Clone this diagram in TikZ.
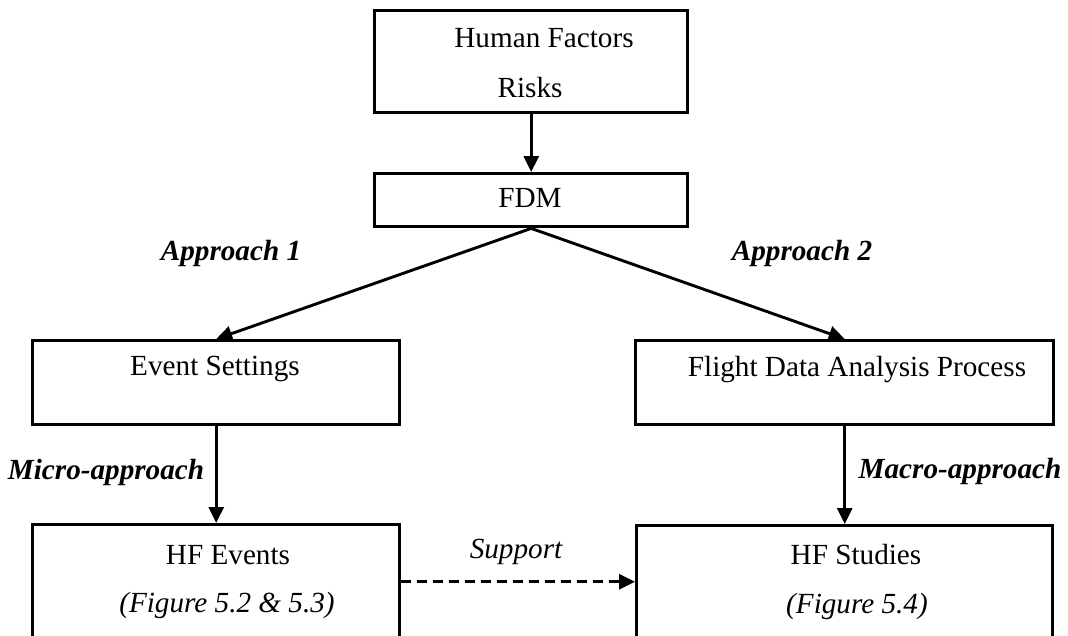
\documentclass[tikz,border=0pt]{standalone}
\usepackage{fontspec}
\setmainfont{Liberation Serif}
\usetikzlibrary{arrows.meta}
\begin{document}
\begin{tikzpicture}[x=1pt,y=-1pt,
  boxnode/.style={draw=black, line width=3.4pt, rectangle, inner sep=0pt, anchor=north west},
  txt/.style={inner sep=0pt, font=\fontsize{29.2}{35}\selectfont},
  lbl/.style={inner sep=0pt, font=\fontsize{29.2}{35}\selectfont\bfseries\itshape},
  conn/.style={line width=2.9pt, -{Triangle[length=16pt,width=15pt]}},
  dconn/.style={line width=2.9pt, dash pattern=on 10pt off 6pt, -{Triangle[length=16pt,width=15pt]}}]
\useasboundingbox (0,0) rectangle (1068,635);
% boxes
\node[boxnode, minimum width=313pt, minimum height=102pt] (top) at (373,9) {};
\node[boxnode, minimum width=313pt, minimum height=53pt] (fdm) at (373,172) {};
\node[boxnode, minimum width=367pt, minimum height=84pt] (ev) at (31,339) {};
\node[boxnode, minimum width=418pt, minimum height=84pt] (fl) at (634,339) {};
\node[boxnode, minimum width=367pt, minimum height=114pt] (hfe) at (31,523) {};
\node[boxnode, minimum width=416pt, minimum height=112pt] (hfs) at (635,524) {};
% texts
\node[txt] (t1) at (544,38) {Human Factors};
\node[txt] (t2) at (530,88) {Risks};
\node[txt] (t3) at (530,198) {FDM};
\node[txt] (t4) at (215,369) {Event Settings};
\node[txt] (t5) at (857,370) {Flight Data Analysis Process};
\node[txt] (t6) at (228,555) {HF Events};
\node[txt] (t7) at (227,605) {\itshape (Figure 5.2 \& 5.3)};
\node[txt] (t8) at (856,555) {HF Studies};
\node[txt] (t9) at (857,606) {\itshape (Figure 5.4)};
% labels
\node[lbl] (a1) at (231,253) {Approach 1};
\node[lbl] (a2) at (802,253) {Approach 2};
\node[lbl] (mi) at (106,472) {Micro-approach};
\node[lbl] (ma) at (960,471) {Macro-approach};
\node[txt, font=\fontsize{29.2}{35}\selectfont\itshape] (su) at (516,552) {Support};
% connectors
\draw[conn] (top.south) -- (fdm.north);
\draw[conn] (fdm.south) -- (ev.north);
\draw[conn] (fdm.south) -- (fl.north);
\draw[conn] (ev.south) -- (hfe.north);
\draw[conn] (fl.south) -- (hfs.north);
\draw[dconn] (hfe.east) -- (hfs.west);
\end{tikzpicture}
\end{document}
